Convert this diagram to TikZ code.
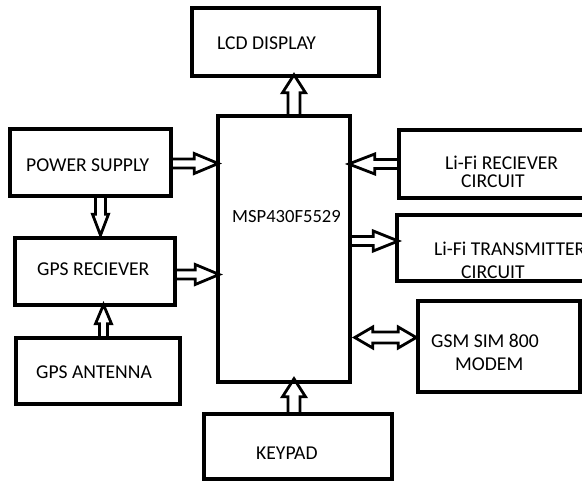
\documentclass[tikz,border=0pt]{standalone}
\usepackage{fontspec}
\setmainfont{Carlito}
\usetikzlibrary{calc,backgrounds}
% single hollow block arrow: start, end, shaft half-width, head half-width, head length
\newcommand\barrow[5]{%
  \draw[blk] let \p1=(#1), \p2=(#2),
    \n1={veclen(\x2-\x1,\y2-\y1)}, \n2={atan2(\y2-\y1,\x2-\x1)} in
    [shift={(\p1)}, rotate=\n2]
    (0,#3) -- ({\n1-#5},#3) -- ({\n1-#5},#4) -- (\n1,0)
    -- ({\n1-#5},-#4) -- ({\n1-#5},-#3) -- (0,-#3);}
% double hollow block arrow
\newcommand\dbarrow[5]{%
  \draw[blk] let \p1=(#1), \p2=(#2),
    \n1={veclen(\x2-\x1,\y2-\y1)}, \n2={atan2(\y2-\y1,\x2-\x1)} in
    [shift={(\p1)}, rotate=\n2]
    (#5,#3) -- ({\n1-#5},#3) -- ({\n1-#5},#4) -- (\n1,0)
    -- ({\n1-#5},-#4) -- ({\n1-#5},-#3) -- (#5,-#3)
    -- (#5,-#4) -- (0,0) -- (#5,#4) -- cycle;}
\begin{document}
\begin{tikzpicture}[x=1pt,y=-1pt,
  box/.style={draw,line width=3.5pt,inner sep=0pt},
  lbl/.style={anchor=west,inner sep=0pt,font=\fontsize{19.6}{21}\selectfont},
  blk/.style={draw,fill=white,line width=2.8pt,miter limit=4}]
\useasboundingbox (0,0) rectangle (582,481);
\clip (0,0) rectangle (582,481);
% boxes
\node[box,minimum width=187pt,minimum height=68pt] (lcd) at (285.5,42) {};
\node[box,minimum width=132pt,minimum height=266pt] (msp) at (284,249) {};
\node[box,minimum width=161pt,minimum height=67pt] (ps) at (90.5,162.5) {};
\node[box,minimum width=160pt,minimum height=67pt] (gps) at (95,271.5) {};
\node[box,minimum width=164pt,minimum height=66pt] (ant) at (98,371) {};
\node[box,minimum width=188pt,minimum height=65pt] (key) at (298,446.5) {};
\node[box,minimum width=241pt,minimum height=68pt] (lrx) at (519.5,164) {};
\node[box,minimum width=243pt,minimum height=66pt] (ltx) at (518.5,248) {};
\node[box,minimum width=162pt,minimum height=91pt] (gsm) at (499,346.5) {};
% labels
\node[lbl] (tlcd) at (217,43) {LCD DISPLAY};
\node[lbl,font=\fontsize{18.6}{20}\selectfont] (tmsp) at (232,217) {MSP430F5529};
\node[lbl] (tps) at (26,165) {POWER SUPPLY};
\node[lbl] (tgps) at (37,269) {GPS RECIEVER};
\node[lbl] (tant) at (36,372) {GPS ANTENNA};
\node[lbl] (tkey) at (256,453) {KEYPAD};
\node[lbl] (tlrx1) at (445,162.5) {Li-Fi RECIEVER};
\node[lbl] (tlrx2) at (461,181) {CIRCUIT};
\node[lbl] (tltx1) at (434,249) {Li-Fi TRANSMITTER};
\node[lbl] (tltx2) at (461,272.5) {CIRCUIT};
\node[lbl] (tgsm1) at (431,341) {GSM SIM 800};
\node[lbl] (tgsm2) at (455,364) {MODEM};
% arrows
\begin{pgfonlayer}{background}
\barrow{$(msp.north)+(10,0)$}{$(msp.north |- lcd.south)+(10,-3)$}{6}{11.5}{18}
\barrow{$(ps.east)+(0,1)$}{$(ps.east -| msp.west)+(2,1)$}{4.5}{10}{24}
\barrow{$(ps.south)+(10,0)$}{$(ps.south |- gps.north)+(10,-1)$}{5}{8}{21}
\barrow{$(gps.east)+(0,3)$}{$(gps.east -| msp.west)+(3,3)$}{4.5}{10}{24}
\barrow{$(ant.north)+(5.5,0)$}{$(ant.north |- gps.south)+(5.5,-2)$}{4}{8}{19}
\barrow{$(key.north)+(-4,0)$}{$(key.north |- msp.south)+(-4,-5)$}{6}{11.5}{18}
\barrow{lrx.west}{$(lrx.west -| msp.east)+(-3,0)$}{4.5}{10}{26}
\barrow{$(ltx.west -| msp.east)+(0,-7)$}{$(ltx.west)+(3,-7)$}{4.5}{10}{25}
\dbarrow{$(gsm.west -| msp.east)+(3,-9)$}{$(gsm.west)+(0,-9)$}{5.5}{10.5}{18}
\end{pgfonlayer}
\end{tikzpicture}
\end{document}
